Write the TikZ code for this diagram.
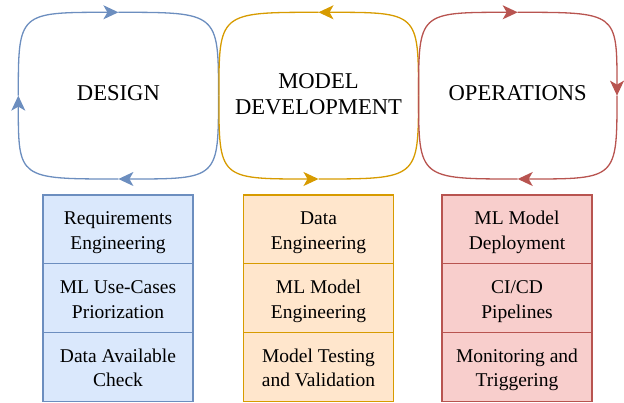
\documentclass[tikz,border=0pt]{standalone}
\usepackage{fontspec}
\setmainfont{Liberation Serif}
\usetikzlibrary{arrows.meta,positioning}

\definecolor{designline}{HTML}{6C8EBF}
\definecolor{designfill}{HTML}{DAE8FC}
\definecolor{devline}{HTML}{D79B00}
\definecolor{devfill}{HTML}{FFE6CC}
\definecolor{opsline}{HTML}{B85450}
\definecolor{opsfill}{HTML}{F8CECC}

\tikzset{
	phase/.style={font=\fontsize{22.6}{26.7}\selectfont, align=center},
	cell/.style={draw, line width=1.2pt, minimum width=150pt, minimum height=68.7pt,
		inner sep=0pt, outer sep=0pt, align=center,
		font=\fontsize{19.5}{24.5}\selectfont, text height=40pt, text depth=0pt},
	loopline/.style={line width=1.3pt},
	looptip/.style={-{Stealth[length=15pt,width=14pt,inset=4pt]}}
}

\begin{document}
\begin{tikzpicture}[x=1pt,y=-1pt]
	\useasboundingbox (0,0) rectangle (624,403);

	\node[phase] (design) at (118.4,93.3) {DESIGN};
	\node[phase] (modeldev) at (318.5,94.2) {MODEL\\DEVELOPMENT};
	\node[phase] (operations) at (517.7,93.3) {OPERATIONS};

	% design cycle, clockwise
	\coordinate (dn) at (118.4,12.3);
	\coordinate (de) at (218.5,95.65);
	\coordinate (ds) at (118.4,179);
	\coordinate (dw) at (18.3,95.65);
	\draw[loopline, designline, looptip] (dw) .. controls (dw |- dn) .. (dn);
	\draw[loopline, designline] (dn) .. controls (de |- dn) .. (de);
	\draw[loopline, designline, looptip] (de) .. controls (de |- ds) .. (ds);
	\draw[loopline, designline, looptip] (ds) .. controls (dw |- ds) .. (dw);

	% development cycle, counter-clockwise
	\coordinate (mn) at (318.5,12.3);
	\coordinate (me) at (418.5,95.65);
	\coordinate (ms) at (318.5,179);
	\coordinate (mw) at (218.9,95.65);
	\draw[loopline, devline, looptip] (me) .. controls (me |- mn) .. (mn);
	\draw[loopline, devline] (mn) .. controls (mw |- mn) .. (mw);
	\draw[loopline, devline, looptip] (mw) .. controls (mw |- ms) .. (ms);
	\draw[loopline, devline] (ms) .. controls (me |- ms) .. (me);

	% operations cycle, clockwise
	\coordinate (on) at (517.7,12.3);
	\coordinate (oe) at (617,95.65);
	\coordinate (os) at (517.7,179);
	\coordinate (ow) at (418.6,95.65);
	\draw[loopline, opsline, looptip] (ow) .. controls (ow |- on) .. (on);
	\draw[loopline, opsline, looptip] (on) .. controls (oe |- on) .. (oe);
	\draw[loopline, opsline, looptip] (oe) .. controls (oe |- os) .. (os);
	\draw[loopline, opsline] (os) .. controls (ow |- os) .. (ow);

	% task stacks
	\node[cell, draw=designline, fill=designfill] (reqeng) at (118,229.35) {Requirements\\Engineering};
	\node[cell, draw=designline, fill=designfill, below=0pt of reqeng] (usecases) {ML Use-Cases\\Priorization};
	\node[cell, draw=designline, fill=designfill, below=0pt of usecases] (datacheck) {Data Available\\Check};

	\node[cell, draw=devline, fill=devfill] (dataeng) at (318.5,229.35) {Data\\Engineering};
	\node[cell, draw=devline, fill=devfill, below=0pt of dataeng] (modeleng) {ML Model\\Engineering};
	\node[cell, draw=devline, fill=devfill, below=0pt of modeleng] (testing) {Model Testing\\and Validation};

	\node[cell, draw=opsline, fill=opsfill] (deploy) at (517,229.35) {ML Model\\Deployment};
	\node[cell, draw=opsline, fill=opsfill, below=0pt of deploy] (pipelines) {CI/CD\\Pipelines};
	\node[cell, draw=opsline, fill=opsfill, below=0pt of pipelines] (monitoring) {Monitoring and\\Triggering};
\end{tikzpicture}
\end{document}
